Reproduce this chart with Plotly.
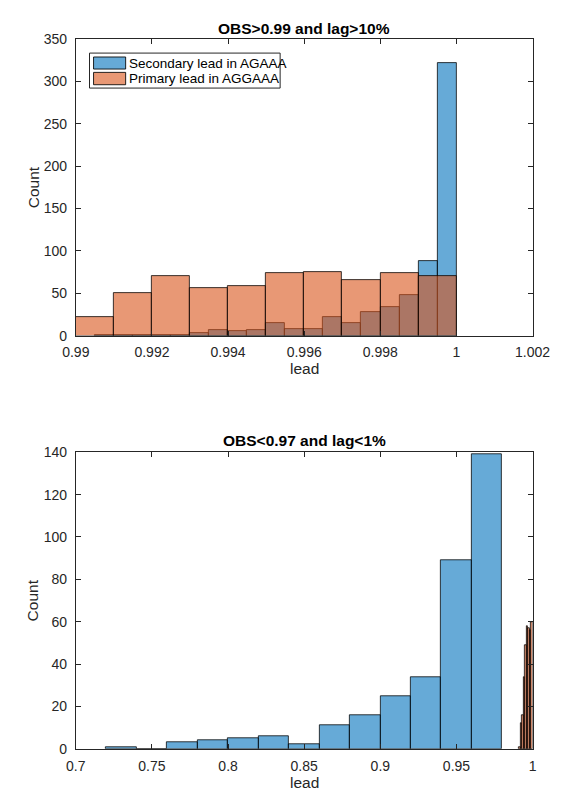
import numpy as np
import plotly.graph_objects as go

# ---- data -------------------------------------------------------------
# Upper panel: OBS>0.99 and lag>10%
top_sec_start = 0.9905
top_sec_width = 0.0005
top_sec_counts = [1, 1, 1, 1, 1, 3, 7, 5, 7, 15, 8, 8, 22, 15, 28, 34, 48, 88, 322]

top_pri_start = 0.990
top_pri_width = 0.001
top_pri_counts = [22, 50, 70, 56, 58, 74, 75, 66, 74, 70]

# Lower panel: OBS<0.97 and lag<1%
bot_sec_start = 0.72
bot_sec_width = 0.02
bot_sec_counts = [1, 0, 3, 4, 5, 6, 2, 11, 16, 25, 34, 89, 139]

bot_pri_start = 0.991
bot_pri_width = 0.001
bot_pri_counts = [1, 12, 16, 34, 49, 58, 57, 56, 60]

top_xticks = [0.99, 0.992, 0.994, 0.996, 0.998, 1.0, 1.002]
top_xtext = ["0.99", "0.992", "0.994", "0.996", "0.998", "1", "1.002"]
top_yticks = [0, 50, 100, 150, 200, 250, 300, 350]
bot_xticks = [0.7, 0.75, 0.8, 0.85, 0.9, 0.95, 1.0]
bot_xtext = ["0.7", "0.75", "0.8", "0.85", "0.9", "0.95", "1"]
bot_yticks = [0, 20, 40, 60, 80, 100, 120, 140]

SEC_NAME = "Secondary lead in AGAAA"
PRI_NAME = "Primary lead in AGGAAA"

# ---- style ------------------------------------------------------------
W, H = 569, 799
BLUE = "rgba(0,114,189,0.6)"
ORANGE = "rgba(217,83,25,0.6)"
EDGE = "rgba(0,0,0,0.85)"
AXC = "#262626"
FONT = "Liberation Sans, Arial, Helvetica, sans-serif"


def px(x):
    return x / W


def py(y):
    return 1 - y / H


def hist_bars(start, width, counts, color, name, xa, ya):
    counts = np.asarray(counts, dtype=float)
    lefts = start + width * np.arange(len(counts))
    return go.Bar(
        x=lefts + width / 2,
        y=counts,
        width=[width] * len(counts),
        marker=dict(color=color, line=dict(color=EDGE, width=0.9)),
        name=name,
        showlegend=False,
        xaxis=xa,
        yaxis=ya,
    )


fig = go.Figure()
fig.add_trace(hist_bars(top_sec_start, top_sec_width, top_sec_counts, BLUE, SEC_NAME, "x", "y"))
fig.add_trace(hist_bars(top_pri_start, top_pri_width, top_pri_counts, ORANGE, PRI_NAME, "x", "y"))
fig.add_trace(hist_bars(bot_sec_start, bot_sec_width, bot_sec_counts, BLUE, SEC_NAME, "x2", "y2"))
fig.add_trace(hist_bars(bot_pri_start, bot_pri_width, bot_pri_counts, ORANGE, PRI_NAME, "x2", "y2"))

# axes geometry (pixels)
AX_L, AX_R = 65.5, 549.5
TOP_T, TOP_B = 31.7, 334.3
BOT_T, BOT_B = 453.3, 756

axis_common = dict(
    showline=True, linecolor=AXC, linewidth=1, mirror="ticks",
    ticks="inside", ticklen=5, tickwidth=1, tickcolor=AXC,
    showgrid=False, zeroline=False,
    tickfont=dict(family=FONT, size=14, color=AXC),
)
xcommon = dict(axis_common, ticklabelstandoff=4)
ycommon = dict(axis_common, ticklabelstandoff=5)

fig.update_layout(
    width=W, height=H,
    margin=dict(l=0, r=0, t=0, b=0),
    paper_bgcolor="white", plot_bgcolor="white",
    barmode="overlay", bargap=0,
    font=dict(family=FONT, color=AXC),
    xaxis=dict(domain=[px(AX_L), px(AX_R)], range=[0.99, 1.002], anchor="y",
               tickvals=top_xticks, ticktext=top_xtext, **xcommon),
    yaxis=dict(domain=[py(TOP_B), py(TOP_T)], range=[0, 350], anchor="x",
               tickvals=top_yticks, **ycommon),
    xaxis2=dict(domain=[px(AX_L), px(AX_R)], range=[0.7, 1.0], anchor="y2",
                tickvals=bot_xticks, ticktext=bot_xtext, **xcommon),
    yaxis2=dict(domain=[py(BOT_B), py(BOT_T)], range=[0, 140], anchor="x2",
                tickvals=bot_yticks, **ycommon),
)

ann = []
# panel titles
ann.append(dict(text="<b>OBS>0.99 and lag>10%</b>", x=px((AX_L + AX_R) / 2), y=py(20.5),
                font=dict(size=15.5, color="#000", family=FONT)))
ann.append(dict(text="<b>OBS<0.97 and lag<1%</b>", x=px((AX_L + AX_R) / 2), y=py(441.5),
                font=dict(size=15.5, color="#000", family=FONT)))
# axis labels
for yc in (368, 790):
    ann.append(dict(text="lead", x=px((AX_L + AX_R) / 2), y=py(yc),
                    font=dict(size=15.5, color=AXC, family=FONT)))
for yc in ((TOP_T + TOP_B) / 2, (BOT_T + BOT_B) / 2):
    ann.append(dict(text="Count", x=px(20), y=py(yc), textangle=-90,
                    font=dict(size=15.5, color=AXC, family=FONT)))

# legend inside the upper panel
shapes = [
    dict(type="rect", xref="paper", yref="paper", x0=px(80), x1=px(282), y0=py(81.7), y1=py(46),
         fillcolor="white", line=dict(color=AXC, width=1)),
    dict(type="rect", xref="paper", yref="paper", x0=px(84.3), x1=px(118.3), y0=py(62.3), y1=py(50),
         fillcolor=BLUE, line=dict(color=EDGE, width=1)),
    dict(type="rect", xref="paper", yref="paper", x0=px(84.3), x1=px(118.3), y0=py(78.3), y1=py(65.7),
         fillcolor=ORANGE, line=dict(color=EDGE, width=1)),
]
ann.append(dict(text=SEC_NAME, x=px(120), y=py(56.3), xanchor="left",
                font=dict(size=13.5, color="#000", family=FONT)))
ann.append(dict(text=PRI_NAME, x=px(120), y=py(72), xanchor="left",
                font=dict(size=13.5, color="#000", family=FONT)))

for a in ann:
    a.setdefault("xref", "paper")
    a.setdefault("yref", "paper")
    a.setdefault("showarrow", False)
    a.setdefault("xanchor", "center")
    a.setdefault("yanchor", "middle")

fig.update_layout(annotations=ann, shapes=shapes)
fig.write_html("out.html")
